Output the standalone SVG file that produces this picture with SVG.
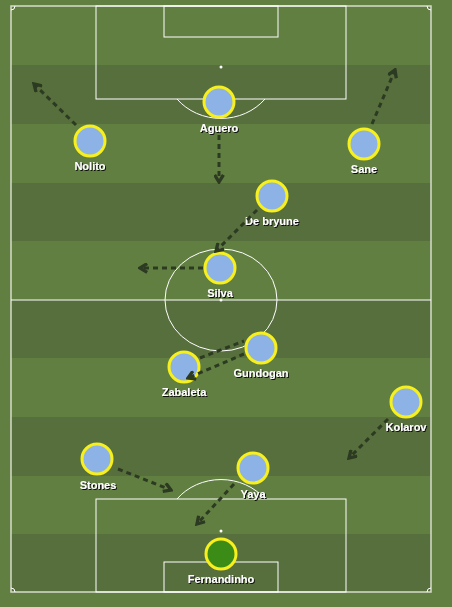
<svg xmlns="http://www.w3.org/2000/svg" width="452" height="607" viewBox="0 0 452 607">
<defs>
<style>
.light{fill:#617f41}
.dark{fill:#576f3c}
.ln{fill:none;stroke:#ffffff;stroke-width:1}
.bd{fill:none;stroke:#d6dccb;stroke-width:1.5}
.p{fill:#8db3e6;stroke:#f7f01c;stroke-width:3}
.gk{fill:#3b8b17;stroke:#f7f01c;stroke-width:3}
.lbl{font-family:"Liberation Sans",Arial,sans-serif;font-size:11px;font-weight:bold;fill:#ffffff;text-anchor:middle;filter:url(#sh)}
.arr{fill:none;stroke:#2c3a22;stroke-width:3;stroke-dasharray:5,4;marker-end:url(#ah)}
.arrn{fill:none;stroke:#2c3a22;stroke-width:3;stroke-dasharray:5,4}
</style>
<filter id="sh" x="-20%" y="-40%" width="140%" height="180%">
<feDropShadow dx="1" dy="1" stdDeviation="0.5" flood-color="#111111" flood-opacity="1"/>
</filter>
<marker id="ah" viewBox="0 0 10 10" refX="8" refY="5" markerWidth="11" markerHeight="11" markerUnits="userSpaceOnUse" orient="auto">
<path d="M1.5,1 L8,5 L1.5,9" fill="none" stroke="#2c3a22" stroke-width="3"/>
</marker>
</defs>
<rect x="0" y="0" width="452" height="607" class="light"/>
<g id="stripes">
<rect x="11" y="65" width="420" height="59" class="dark"/>
<rect x="11" y="183" width="420" height="58" class="dark"/>
<rect x="11" y="300" width="420" height="58" class="dark"/>
<rect x="11" y="417" width="420" height="59" class="dark"/>
<rect x="11" y="534" width="420" height="58" class="dark"/>
</g>
<g id="pitch">
<rect x="11" y="6" width="420" height="586" class="bd"/>
<line x1="11" y1="300" x2="431" y2="300" class="ln"/>
<ellipse cx="221" cy="300" rx="56" ry="51" class="ln"/>
<circle cx="221" cy="300" r="1.5" fill="#ffffff"/>
<rect x="96" y="6" width="250" height="93" class="ln"/>
<rect x="164" y="6" width="114" height="31" class="ln"/>
<circle cx="221" cy="67" r="1.5" fill="#ffffff"/>
<path d="M177,99 A56,51 0 0 0 265,99" class="ln"/>
<rect x="96" y="499" width="250" height="93" class="ln"/>
<rect x="164" y="562" width="114" height="30" class="ln"/>
<circle cx="221" cy="531" r="1.5" fill="#ffffff"/>
<path d="M177,499 A56,51 0 0 1 265,499" class="ln"/>
<path d="M11,10 A4,4 0 0 0 15,6" class="ln"/>
<path d="M427,6 A4,4 0 0 0 431,10" class="ln"/>
<path d="M11,588 A4,4 0 0 1 15,592" class="ln"/>
<path d="M427,592 A4,4 0 0 1 431,588" class="ln"/>
</g>
<g id="aguero"><circle cx="219" cy="102" r="15" class="p"/><text x="219" y="132" class="lbl">Aguero</text></g>
<g id="nolito"><circle cx="90" cy="141" r="15" class="p"/><text x="90" y="170" class="lbl">Nolito</text></g>
<g id="sane"><circle cx="364" cy="144" r="15" class="p"/><text x="364" y="173" class="lbl">Sane</text></g>
<g id="debryune"><circle cx="272" cy="196" r="15" class="p"/><text x="272" y="225" class="lbl">De bryune</text></g>
<g id="silva"><circle cx="220" cy="268" r="15" class="p"/><text x="220" y="297" class="lbl">Silva</text></g>
<g id="gundogan"><circle cx="261" cy="348" r="15" class="p"/><text x="261" y="377" class="lbl">Gundogan</text></g>
<g id="zabaleta"><circle cx="184" cy="367" r="15" class="p"/><text x="184" y="396" class="lbl">Zabaleta</text></g>
<g id="kolarov"><circle cx="406" cy="402" r="15" class="p"/><text x="406" y="431" class="lbl">Kolarov</text></g>
<g id="stones"><circle cx="97" cy="459" r="15" class="p"/><text x="98" y="489" class="lbl">Stones</text></g>
<g id="yaya"><circle cx="253" cy="468" r="15" class="p"/><text x="253" y="498" class="lbl">Yaya</text></g>
<g id="fernandinho"><circle cx="221" cy="554" r="15" class="gk"/><text x="221" y="583" class="lbl">Fernandinho</text></g>
<g id="connectors">
<line x1="76" y1="125" x2="34" y2="84" class="arr"/>
<line x1="219" y1="135" x2="219" y2="182" class="arr"/>
<line x1="372" y1="124" x2="395" y2="70" class="arr"/>
<line x1="257" y1="210" x2="216" y2="251" class="arr"/>
<line x1="203" y1="268" x2="140" y2="268" class="arr"/>
<line x1="200" y1="358" x2="244" y2="341" class="arrn"/>
<line x1="244" y1="354" x2="188" y2="378" class="arr"/>
<line x1="388" y1="419" x2="349" y2="458" class="arr"/>
<line x1="118" y1="469" x2="171" y2="490" class="arr"/>
<line x1="234" y1="484" x2="197" y2="524" class="arr"/>
</g>
</svg>
